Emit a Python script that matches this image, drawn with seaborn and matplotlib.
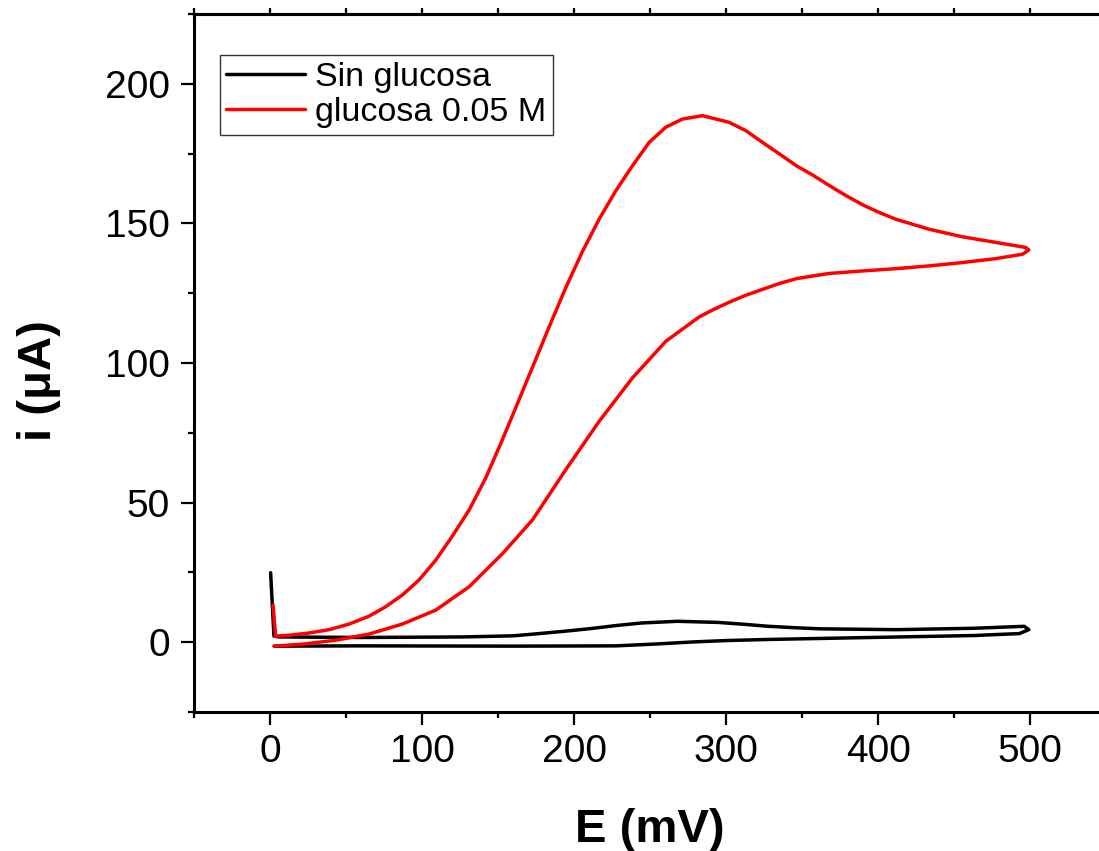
import numpy as np
import pandas as pd
import matplotlib
matplotlib.use("Agg")
import matplotlib.pyplot as plt
import seaborn as sns

# Sin glucosa: spike, forward scan (upper), return scan (lower)
e_blank = [0.4, 2.6, 6, 60, 127, 160, 177, 195, 211, 228, 244.5, 268, 294.7, 310, 328, 345,
           362, 412, 462.7, 496, 499,
           492.8, 462.7, 395, 328, 300, 278, 255, 227.6, 160.5, 60, 2.8]
i_blank = [24.9, 2.2, 1.9, 1.7, 1.9, 2.3, 3.1, 4.0, 4.9, 6.0, 6.9, 7.5, 7.1, 6.5, 5.7, 5.2,
           4.8, 4.5, 5.0, 5.7, 4.5,
           3.1, 2.4, 1.7, 1.0, 0.6, 0.1, -0.6, -1.3, -1.4, -1.3, -1.4]

# glucosa 0.05 M
e_gluc = [2, 3.7, 12.5, 25.7, 38.8, 52, 65, 76, 87, 98, 109, 120, 131, 142, 152, 161.6, 172.6,
          183.6, 194.5, 205.5, 216.4, 227.4, 238.4, 249.3, 260.3, 271.3, 284.4, 302, 313, 324,
          335, 346, 357, 368, 379, 390, 400.7, 411.6, 433.6, 455.5, 477.4, 497, 499,
          495, 477.4, 455.5, 433.6, 411.6, 390, 368, 357, 346, 335, 324, 313, 302, 291, 282.2,
          260.3, 238.4, 216.4, 194.5, 172.6, 153, 131, 109, 87, 65, 43, 21, 2.6]
i_gluc = [13.3, 2.2, 2.5, 3.3, 4.5, 6.5, 9.3, 12.7, 16.9, 22.3, 29.4, 38.1, 47.4, 59, 71.5,
          84, 98.5, 113, 127, 140, 151.5, 161.7, 170.7, 179, 184.5, 187.4, 188.6, 186.2,
          183.2, 179, 174.9, 170.7, 167.3, 163.5, 159.9, 156.6, 153.9, 151.5, 147.9, 145.2,
          143.2, 141.4, 140.5,
          139, 137.4, 136, 134.8, 133.8, 133, 132.1, 131.2, 130.2, 128.5, 126.4, 124.3, 121.8,
          119, 116.5, 107.8, 94.7, 79.1, 61.8, 43.8, 31.8, 19.9, 11.5, 6.5, 2.9, 0.7, -0.7, -1.4]

labels = ["Sin glucosa", "glucosa 0.05 M"]
colors = ["black", "red"]

df = pd.concat([
    pd.DataFrame({"E": e_blank, "i": i_blank, "serie": labels[0]}),
    pd.DataFrame({"E": e_gluc, "i": i_gluc, "serie": labels[1]}),
], ignore_index=True)

sns.set_style("ticks")
plt.rcParams["font.family"] = ["Liberation Sans", "DejaVu Sans"]
plt.rcParams.update({"text.color": "black", "axes.labelcolor": "black",
                     "xtick.color": "black", "ytick.color": "black",
                     "axes.edgecolor": "black"})

fig = plt.figure(figsize=(10.99, 8.51), dpi=100)
ax = fig.add_axes([0.1765, 0.1633, 0.8302, 0.8202])

sns.lineplot(data=df, x="E", y="i", hue="serie", sort=False, estimator=None,
             palette=dict(zip(labels, colors)), linewidth=2.5, ax=ax)

ax.set_xlim(-50, 550)
ax.set_ylim(-25, 225)
ax.set_xticks([0, 100, 200, 300, 400, 500])
ax.set_xticks(np.arange(-50, 551, 50), minor=True)
ax.set_yticks([0, 50, 100, 150, 200])
ax.set_yticks(np.arange(-25, 226, 25), minor=True)
ax.tick_params(which="major", direction="out", length=9.5, width=1.6, labelsize=28)
ax.tick_params(axis="y", which="major", pad=8)
ax.tick_params(axis="x", which="major", pad=6)
ax.tick_params(which="minor", direction="out", length=4, width=1.6)

top = ax.secondary_xaxis("top")
top.set_xticks(np.arange(-50, 551, 50))
top.tick_params(direction="out", length=4.5, width=1.6, labeltop=False)
top.spines["top"].set_linewidth(2.2)

for side in ["left", "bottom", "top"]:
    ax.spines[side].set_linewidth(2.2)
ax.spines["right"].set_visible(False)

ax.set_xlabel("E (mV)", fontsize=34, fontweight="bold")
ax.set_ylabel("i (μA)", fontsize=34, fontweight="bold")
ax.xaxis.set_label_coords(0.5, -0.1862)
ax.xaxis.label.set_va("baseline")
ax.yaxis.set_label_coords(-0.157, 0.4756)
ax.yaxis.label.set_va("baseline")

leg = ax.legend(loc="upper left", bbox_to_anchor=(0.028, 0.941), borderaxespad=0,
                fontsize=24.5, handlelength=2.3, handletextpad=0.3, labelspacing=0.12,
                borderpad=0.2, fancybox=False, framealpha=1, edgecolor="#333333", title=None)
leg.get_frame().set_linewidth(1.0)

fig.savefig("out.png", dpi=100)
